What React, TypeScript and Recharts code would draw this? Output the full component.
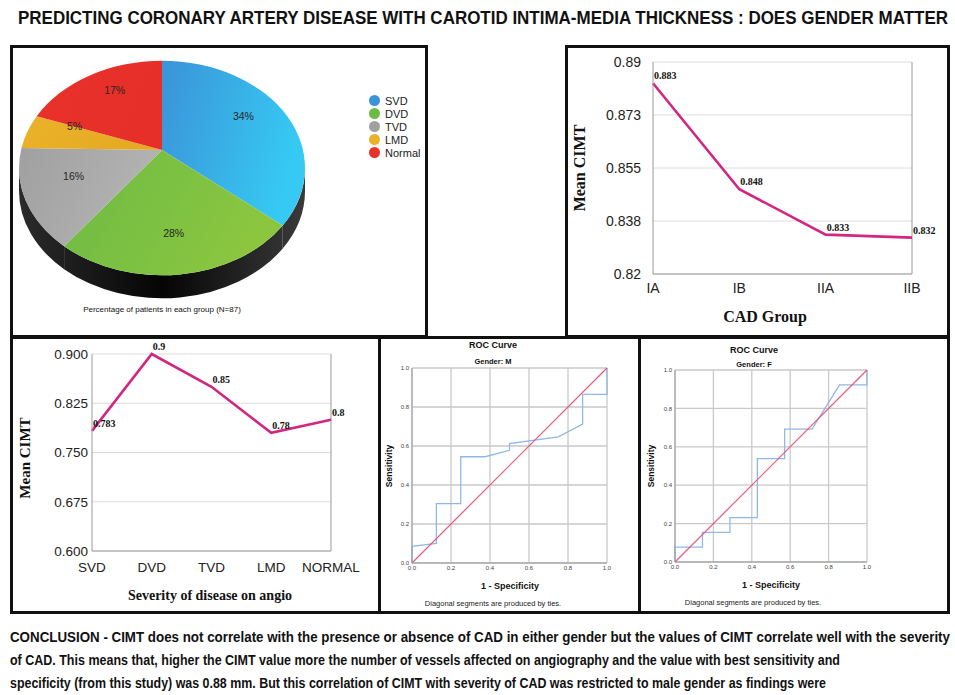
import React from 'react';
import {
  PieChart, Pie, Cell, Legend, LineChart, Line, XAxis, YAxis, CartesianGrid, ReferenceLine, LabelList
} from 'recharts';

const SANS = '"Liberation Sans", Arial, sans-serif';
const SERIF = '"Liberation Serif", "Times New Roman", serif';
const NARROW = '"Liberation Sans Narrow", "Arial Narrow", "Liberation Sans", sans-serif';

// pie: share of patients per group
const groupNames = ['SVD', 'DVD', 'TVD', 'LMD', 'Normal'];
const groupShares = [34, 28, 16, 5, 17];
const groupColors = ['#3b93d8', '#6cbb45', '#a0a0a0', '#eab22a', '#e8312b'];
const groupShades = ['#36c9f3', '#8cc63f', '#b4b4b4', '#e5aa22', '#e62f29'];

// mean CIMT per CAD group
const cadGroups = ['IA', 'IB', 'IIA', 'IIB'];
const cadMeans = [0.883, 0.848, 0.833, 0.832];
const cadTicks = [0.82, 0.8375, 0.855, 0.8725, 0.89];
const cadTickLabels = ['0.82', '0.838', '0.855', '0.873', '0.89'];

// mean CIMT per severity
const severityGroups = ['SVD', 'DVD', 'TVD', 'LMD', 'NORMAL'];
const severityMeans = [0.783, 0.9, 0.85, 0.78, 0.8];
const severityTicks = [0.6, 0.675, 0.75, 0.825, 0.9];

// ROC curves
const rocTicks = [0, 0.2, 0.4, 0.6, 0.8, 1];
const maleFpr = [0, 0, 0.125, 0.125, 0.25, 0.25, 0.375, 0.5, 0.5, 0.75, 0.875, 0.875, 1, 1];
const maleTpr = [0, 0.085, 0.1, 0.305, 0.305, 0.545, 0.545, 0.578, 0.612, 0.647, 0.712, 0.865, 0.865, 1];
const femaleFpr = [0, 0, 0.143, 0.143, 0.286, 0.286, 0.429, 0.429, 0.571, 0.571, 0.714, 0.857, 1, 1];
const femaleTpr = [0, 0.077, 0.077, 0.154, 0.154, 0.231, 0.231, 0.538, 0.538, 0.692, 0.692, 0.923, 0.923, 1];
const diagonalPts = [0, 1];

const titleText = 'PREDICTING CORONARY ARTERY DISEASE WITH CAROTID INTIMA-MEDIA THICKNESS : DOES GENDER MATTER';
const conclusionLines = [
  'CONCLUSION - CIMT does not correlate with the presence or absence of CAD in either gender but the values of CIMT correlate well with the severity',
  'of CAD. This means that, higher the CIMT value more the number of vessels affected on angiography and the value with best sensitivity and',
  'specificity (from this study) was 0.88 mm. But this correlation of CIMT with severity of CAD was restricted to male gender as findings were',
];
const conclusionWidths = [940, 830, 816];

const pieData = groupNames.map((name, i) => ({ name, value: groupShares[i] }));
const cadData = cadGroups.map((g, i) => ({ g, v: cadMeans[i] }));
const severityData = severityGroups.map((g, i) => ({ g, v: severityMeans[i] }));
const maleRoc = maleFpr.map((x, i) => ({ x, y: maleTpr[i] }));
const femaleRoc = femaleFpr.map((x, i) => ({ x, y: femaleTpr[i] }));
const diagData = diagonalPts.map(v => ({ x: v, y: v }));

const RAD = Math.PI / 180;
const TILT = 0.75;   // squash of the pie top
const LIFT = 18;     // ellipse centre sits below the apex
const DEPTH = 23;    // thickness of the pie

const onEllipse = (cx: number, cy: number, rx: number, ry: number, a: number) =>
  [cx + rx * Math.cos(a * RAD), cy - ry * Math.sin(a * RAD)];

const PieSlice = (props: any) => {
  const { cx, cy, outerRadius, startAngle, endAngle } = props;
  const name = props.name ?? props.payload?.name;
  const idx = Math.max(0, groupNames.indexOf(name));
  const rx = outerRadius;
  const ry = outerRadius * TILT;
  const ecy = cy + LIFT;
  const [x1, y1] = onEllipse(cx, ecy, rx, ry, startAngle);
  const [x2, y2] = onEllipse(cx, ecy, rx, ry, endAngle);
  const large = Math.abs(startAngle - endAngle) > 180 ? 1 : 0;
  const sweep = startAngle > endAngle ? 1 : 0;
  const face = `M${cx},${cy} L${x1},${y1} A${rx},${ry} 0 ${large} ${sweep} ${x2},${y2} Z`;

  // side wall only where the rim faces the viewer
  const lo = Math.max(Math.min(startAngle, endAngle), -180);
  const hi = Math.min(Math.max(startAngle, endAngle), 0);
  let wall = null;
  if (hi > lo) {
    const [ax, ay] = onEllipse(cx, ecy, rx, ry, hi);
    const [bx, by] = onEllipse(cx, ecy, rx, ry, lo);
    const d = `M${ax},${ay} A${rx},${ry} 0 0 1 ${bx},${by} L${bx},${by + DEPTH} A${rx},${ry} 0 0 0 ${ax},${ay + DEPTH} Z`;
    wall = <path d={d} fill="url(#pie-wall)" />;
  }
  const gid = `pie-g-${idx}`;
  return (
    <g>
      <defs>
        <linearGradient id={gid} x1="0" y1="0" x2="1" y2="0.3">
          <stop offset="0%" stopColor={groupColors[idx]} />
          <stop offset="100%" stopColor={groupShades[idx]} />
        </linearGradient>
        <linearGradient id="pie-wall" gradientUnits="userSpaceOnUse" x1={cx - rx} y1="0" x2={cx + rx} y2="0">
          <stop offset="0%" stopColor="#2b2b2b" />
          <stop offset="50%" stopColor="#050505" />
          <stop offset="100%" stopColor="#3a3a3a" />
        </linearGradient>
      </defs>
      {wall}
      <path d={face} fill={`url(#${gid})`} />
    </g>
  );
};

const renderPieLabel = (props: any) => {
  const { cx, cy, midAngle, outerRadius, value } = props;
  const s = Math.sin(midAngle * RAD);
  const x = cx + outerRadius * 0.65 * Math.cos(midAngle * RAD);
  const y = cy - outerRadius * TILT * 0.65 * s + LIFT * 0.75 * Math.max(0, -s);
  return (
    <text x={x} y={y} textAnchor="middle" dominantBaseline="central" fontSize={10.5} fontFamily={SANS} fill="#262626">
      {value}%
    </text>
  );
};

const renderPieLegend = (props: any) => {
  const items = [...(props.payload || [])].sort(
    (a: any, b: any) => groupNames.indexOf(a.value) - groupNames.indexOf(b.value)
  );
  return (
    <div style={{ fontFamily: SANS, fontSize: 11, color: '#222' }}>
      {items.map((e: any) => (
        <div key={e.value} style={{ display: 'flex', alignItems: 'center', height: 13 }}>
          <span style={{ width: 11, height: 11, borderRadius: '50%', background: e.color, marginRight: 5, display: 'inline-block' }} />
          <span>{e.value}</span>
        </div>
      ))}
    </div>
  );
};

const renderPointLabel = (props: any) => {
  const { x, y, value } = props;
  return (
    <text x={x + 1} y={y - 4} fontSize={10} fontFamily={SERIF} fontWeight="bold" fill="#111">
      {value}
    </text>
  );
};

const Txt = ({ x, y, size, bold, font, rotate, color, children }: any) => (
  <div style={{
    position: 'absolute', left: x, top: y, whiteSpace: 'nowrap', lineHeight: 1,
    transform: `translate(-50%, -50%)${rotate ? ' rotate(-90deg)' : ''}`,
    fontSize: size, fontWeight: bold ? 700 : 400, fontFamily: font || SANS, color: color || '#111',
  }}>
    {children}
  </div>
);

const abs = (left: number, top: number): React.CSSProperties => ({ position: 'absolute', left, top });

const magenta = '#d2267f';
const axisGray = '#9a9a9a';

const RocChart = ({ data, width, margin }: any) => (
  <LineChart width={width} height={275} margin={margin}>
    <CartesianGrid stroke="#c9c9c9" strokeWidth={1.3} />
    <XAxis type="number" dataKey="x" domain={[0, 1]} ticks={rocTicks} tickFormatter={(v: number) => v.toFixed(1)}
      height={14} tickLine={false} tickSize={0} tickMargin={3} stroke="#999" tick={{ fontSize: 6, fill: '#444', fontFamily: SANS }} />
    <YAxis type="number" domain={[0, 1]} ticks={rocTicks} tickFormatter={(v: number) => v.toFixed(1)}
      width={22} tickLine={false} tickSize={0} tickMargin={3} stroke="#999" tick={{ fontSize: 6, fill: '#444', fontFamily: SANS }} />
    <Line data={data} dataKey="y" stroke="#8fb8e6" strokeWidth={1.3} dot={false} isAnimationActive={false} />
    <Line data={diagData} dataKey="y" stroke="#e8587a" strokeWidth={1.2} dot={false} isAnimationActive={false} />
  </LineChart>
);

export default function App() {
  return (
    <div style={{ position: 'absolute', left: 0, top: 0, width: 955, height: 695, background: '#fff', overflow: 'hidden', fontFamily: SANS }}>
      <svg width={955} height={695} style={abs(0, 0)}>
        <text x={18} y={24 / 1.12} transform="scale(1,1.12)" textLength={930} lengthAdjust="spacingAndGlyphs"
          fontFamily={NARROW} fontWeight="bold" fontSize={16} fill="#111">
          {titleText}
        </text>
        {conclusionLines.map((line, i) => (
          <text key={i} x={10} y={(642 + i * 23) / 1.1} transform="scale(1,1.1)" textLength={conclusionWidths[i]}
            lengthAdjust="spacingAndGlyphs" fontFamily={NARROW} fontWeight="bold" fontSize={12.5} fill="#111">
            {line}
          </text>
        ))}
      </svg>

      {/* panel frames */}
      <div style={{ ...abs(10, 45), width: 418, height: 293, border: '3px solid #111', boxSizing: 'border-box' }} />
      <div style={{ ...abs(565, 45), width: 385, height: 293, border: '3px solid #111', boxSizing: 'border-box' }} />
      <div style={{ ...abs(10, 336), width: 940, height: 278, border: '3px solid #111', boxSizing: 'border-box' }} />
      <div style={{ ...abs(378, 336), width: 3, height: 278, background: '#111' }} />
      <div style={{ ...abs(638, 336), width: 3, height: 278, background: '#111' }} />

      {/* pie */}
      <div style={abs(11, 46)}>
        <PieChart width={416} height={291} margin={{ top: 0, right: 0, bottom: 0, left: 0 }}>
          <Pie data={pieData} dataKey="value" nameKey="name" cx={151} cy={104} outerRadius={143}
            startAngle={90} endAngle={-270} stroke="none" shape={PieSlice}
            label={renderPieLabel} labelLine={false} isAnimationActive={false}>
            {pieData.map((d, i) => <Cell key={d.name} fill={groupColors[i]} />)}
          </Pie>
          <Legend layout="vertical" align="right" verticalAlign="top" content={renderPieLegend}
            wrapperStyle={{ left: 358, top: 48, width: 70 }} />
        </PieChart>
      </div>
      <Txt x={162} y={310} size={8}>Percentage of patients in each group (N=87)</Txt>

      {/* CAD group */}
      <div style={abs(566, 46)}>
        <LineChart width={383} height={291} data={cadData} margin={{ top: 16, right: 37, bottom: 33, left: 27 }}>
          <CartesianGrid vertical={false} stroke="#dcdcdc" />
          <XAxis dataKey="g" height={30} tickLine={false} tickSize={0} tickMargin={9} stroke={axisGray}
            tick={{ fontSize: 14, fill: '#222', fontFamily: SANS }} />
          <YAxis domain={[0.82, 0.89]} ticks={cadTicks} tickFormatter={(v: number, i: number) => cadTickLabels[i]}
            width={60} tickLine={false} tickSize={0} tickMargin={12} stroke={axisGray}
            tick={{ fontSize: 14, fill: '#222', fontFamily: SANS }} />
          <ReferenceLine x={cadGroups[cadGroups.length - 1]} stroke={axisGray} />
          <Line dataKey="v" stroke={magenta} strokeWidth={2.6} dot={false} isAnimationActive={false}>
            <LabelList dataKey="v" content={renderPointLabel} />
          </Line>
        </LineChart>
      </div>
      <Txt x={580} y={168} size={16} bold font={SERIF} rotate>Mean CIMT</Txt>
      <Txt x={765} y={317} size={16} bold font={SERIF}>CAD Group</Txt>

      {/* severity */}
      <div style={abs(11, 338)}>
        <LineChart width={368} height={275} data={severityData} margin={{ top: 16, right: 48, bottom: 32, left: 21 }}>
          <CartesianGrid vertical={false} stroke="#dcdcdc" />
          <XAxis dataKey="g" height={30} tickLine={false} tickSize={0} tickMargin={11} stroke={axisGray}
            tick={{ fontSize: 13.5, fill: '#222', fontFamily: SANS }} />
          <YAxis domain={[0.6, 0.9]} ticks={severityTicks} tickFormatter={(v: number) => v.toFixed(3)}
            width={60} tickLine={false} tickSize={0} tickMargin={4} stroke={axisGray}
            tick={{ fontSize: 13.5, fill: '#222', fontFamily: SANS }} />
          <ReferenceLine x={severityGroups[severityGroups.length - 1]} stroke={axisGray} />
          <Line dataKey="v" stroke={magenta} strokeWidth={2.6} dot={false} isAnimationActive={false}>
            <LabelList dataKey="v" content={renderPointLabel} />
          </Line>
        </LineChart>
      </div>
      <Txt x={25} y={458} size={15} bold font={SERIF} rotate>Mean CIMT</Txt>
      <Txt x={210} y={596} size={14} bold font={SERIF}>Severity of disease on angio</Txt>

      {/* ROC male */}
      <div style={abs(380, 338)}>
        <RocChart data={maleRoc} width={259} margin={{ top: 30, right: 32, bottom: 36, left: 10 }} />
      </div>
      <Txt x={493} y={345} size={9} bold>ROC Curve</Txt>
      <Txt x={493} y={362} size={7.5} bold>Gender: M</Txt>
      <Txt x={510} y={586} size={9} bold>1 - Specificity</Txt>
      <Txt x={389} y={466} size={8.5} bold rotate>Sensitivity</Txt>
      <Txt x={493} y={604} size={7.5} color="#222">Diagonal segments are produced by ties.</Txt>

      {/* ROC female */}
      <div style={abs(639, 338)}>
        <RocChart data={femaleRoc} width={310} margin={{ top: 32, right: 82, bottom: 37, left: 14 }} />
      </div>
      <Txt x={754} y={350} size={9} bold>ROC Curve</Txt>
      <Txt x={754} y={365} size={7.5} bold>Gender: F</Txt>
      <Txt x={771} y={585} size={9} bold>1 - Specificity</Txt>
      <Txt x={651} y={466} size={8.5} bold rotate>Sensitivity</Txt>
      <Txt x={753} y={603} size={7.5} color="#222">Diagonal segments are produced by ties.</Txt>
    </div>
  );
}
